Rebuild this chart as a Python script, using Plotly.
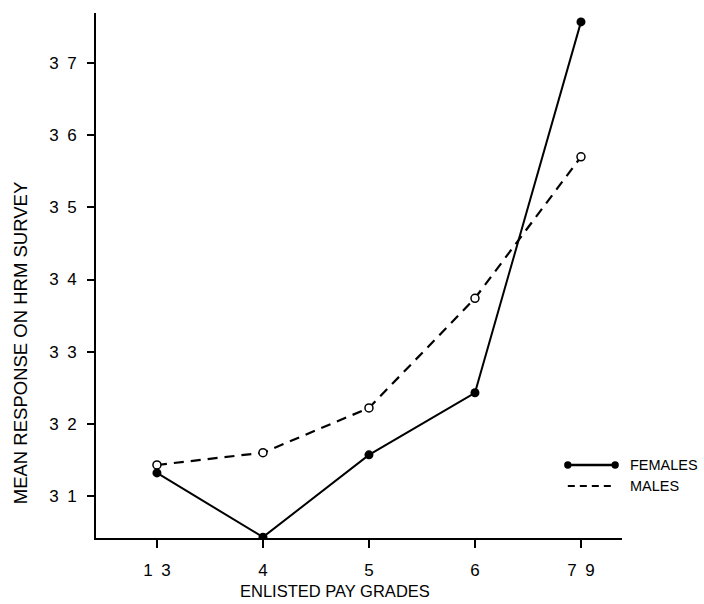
import plotly.graph_objects as go

# Mean HRM survey response by enlisted pay grade
grades = ["1\u20023", "4", "5", "6", "7\u20029"]
females = [3.132, 3.043, 3.157, 3.243, 3.757]
males = [3.143, 3.160, 3.222, 3.374, 3.570]
y_ticks = [3.1, 3.2, 3.3, 3.4, 3.5, 3.6, 3.7]
y_tick_text = ["3\u20021", "3\u20022", "3\u20023", "3\u20024", "3\u20025", "3\u20026", "3\u20027"]

FONT = "Liberation Sans, Arial, sans-serif"
x_pos = list(range(len(grades)))

fig = go.Figure()
fig.add_trace(go.Scatter(
    x=x_pos, y=males, mode="lines+markers", name="MALES",
    line=dict(color="black", width=2.2, dash="10px,7px"),
    marker=dict(symbol="circle", size=8, color="white", line=dict(color="black", width=1.5)),
))
fig.add_trace(go.Scatter(
    x=x_pos, y=females, mode="lines+markers", name="FEMALES",
    line=dict(color="black", width=2),
    marker=dict(symbol="circle", size=9, color="black"),
))

# Hand-drawn style legend at lower right
lx0, lx1 = 0.897, 0.987
fem_y, male_y = 0.139, 0.099
fig.add_shape(type="line", xref="paper", yref="paper", x0=lx0, x1=lx1, y0=fem_y, y1=fem_y,
              line=dict(color="black", width=2.5))
for lx in (lx0, lx1):
    fig.add_shape(type="circle", xref="paper", yref="paper",
                  x0=lx - 0.007, x1=lx + 0.007, y0=fem_y - 0.007, y1=fem_y + 0.007,
                  fillcolor="black", line=dict(color="black", width=0))
fig.add_shape(type="line", xref="paper", yref="paper", x0=lx0, x1=lx1, y0=male_y, y1=male_y,
              line=dict(color="black", width=2, dash="7px,5px"))
fig.add_annotation(xref="paper", yref="paper", x=1.011, y=fem_y, text="FEMALES",
                   showarrow=False, xanchor="left", yanchor="middle",
                   font=dict(family=FONT, size=14.5, color="black"))
fig.add_annotation(xref="paper", yref="paper", x=1.011, y=male_y, text="MALES",
                   showarrow=False, xanchor="left", yanchor="middle",
                   font=dict(family=FONT, size=14.5, color="black"))

# Axis titles
fig.add_annotation(xref="paper", yref="paper", x=-0.1445, y=0.371,
                   text="MEAN RESPONSE ON HRM SURVEY", textangle=-90, showarrow=False,
                   xanchor="center", yanchor="middle",
                   font=dict(family=FONT, size=18.5, color="black"))
fig.add_annotation(xref="paper", yref="paper", x=0.454, y=-0.101,
                   text="ENLISTED PAY GRADES", showarrow=False,
                   xanchor="center", yanchor="middle",
                   font=dict(family=FONT, size=16.5, color="black"))

fig.update_layout(
    width=704, height=604,
    margin=dict(l=96, r=82, t=13, b=66),
    paper_bgcolor="white", plot_bgcolor="white",
    showlegend=False,
    font=dict(family=FONT, size=17, color="black"),
    xaxis=dict(
        range=[-0.575, 4.387], tickvals=x_pos, ticktext=grades,
        showgrid=False, zeroline=False,
        showline=True, linecolor="black", linewidth=2,
        ticks="outside", ticklen=8, tickwidth=2, tickcolor="black",
        ticklabelstandoff=8,
        tickfont=dict(family=FONT, size=17, color="black"),
    ),
    yaxis=dict(
        range=[3.0418, 3.7693], tickvals=y_ticks, ticktext=y_tick_text,
        showgrid=False, zeroline=False,
        showline=True, linecolor="black", linewidth=2,
        ticks="outside", ticklen=7, tickwidth=2, tickcolor="black",
        ticklabelstandoff=7,
        tickfont=dict(family=FONT, size=17, color="black"),
    ),
)

fig.write_html("out.html")
